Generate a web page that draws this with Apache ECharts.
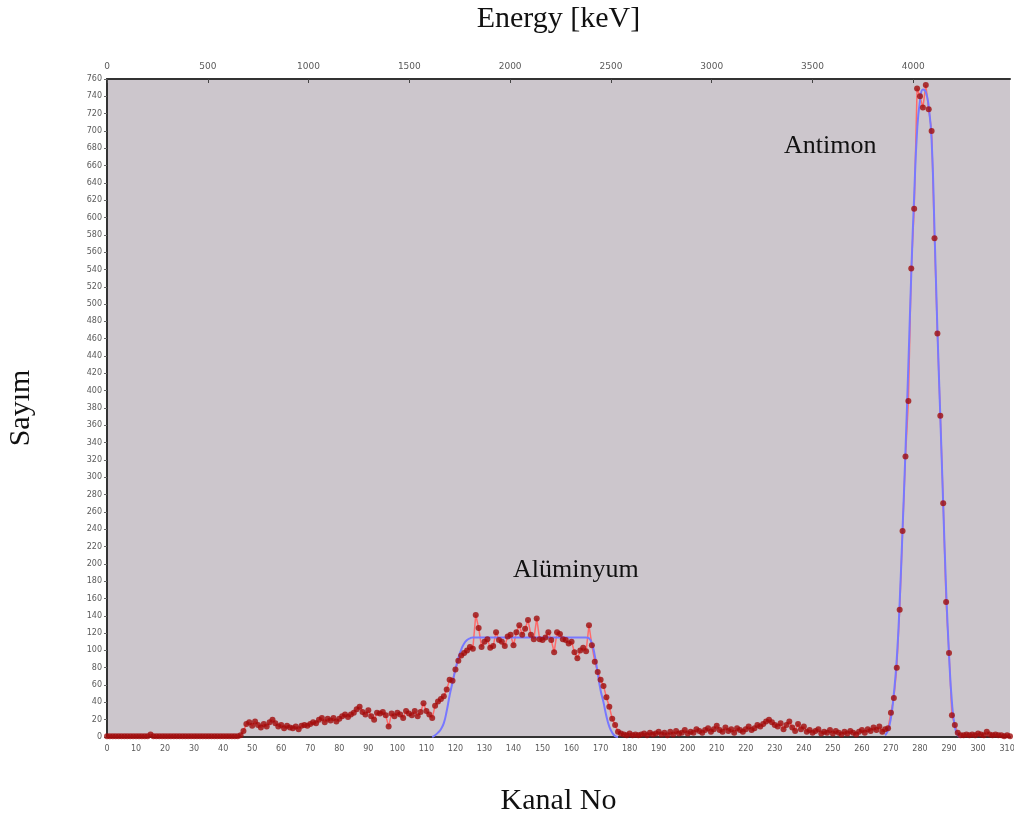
<!DOCTYPE html>
<html>
<head>
<meta charset="utf-8">
<title>Kanal No - Sayım</title>
<script src="https://cdn.jsdelivr.net/npm/echarts@6/dist/echarts.min.js"></script>
<style>
  html, body { margin: 0; padding: 0; background: #fff; }
  #chart { width: 1014px; height: 820px; }
</style>
</head>
<body>
<div id="chart"></div>
<script>
// measured counts, one value per channel (channel = index)
var counts = [
  1, 1, 1, 1, 1, 1, 1, 1, 1, 1, 1, 1, 1, 1, 1, 3, 1, 1, 1, 1,
  1, 1, 1, 1, 1, 1, 1, 1, 1, 1, 1, 1, 1, 1, 1, 1, 1, 1, 1, 1,
  1, 1, 1, 1, 1, 1, 2, 7, 15, 17, 13, 18, 14, 11, 15, 12, 17, 20, 16, 12,
  14, 10, 13, 11, 10, 12, 9, 13, 14, 13, 15, 17, 16, 20, 22, 17, 21, 19, 22, 18,
  21, 24, 26, 23, 26, 28, 32, 35, 29, 26, 31, 24, 20, 28, 27, 29, 25, 12, 27, 24,
  28, 26, 22, 30, 27, 25, 30, 24, 29, 39, 30, 26, 22, 36, 41, 44, 47, 55, 66, 65,
  78, 88, 94, 97, 100, 104, 102, 141, 126, 104, 110, 113, 103, 105, 121, 112, 110, 105, 116, 118,
  106, 121, 129, 118, 125, 135, 118, 113, 137, 113, 112, 115, 121, 112, 98, 121, 119, 113, 112, 108,
  110, 98, 91, 100, 103, 99, 129, 106, 87, 75, 66, 59, 46, 35, 21, 14, 6, 4, 3, 2,
  4, 2, 3, 2, 3, 4, 2, 5, 3, 4, 6, 3, 5, 2, 6, 3, 7, 4, 5, 8,
  4, 6, 5, 9, 7, 5, 8, 10, 6, 9, 13, 8, 6, 11, 7, 9, 5, 10, 8, 6,
  9, 12, 8, 10, 14, 12, 15, 18, 20, 17, 14, 12, 16, 9, 14, 18, 11, 7, 15, 9,
  12, 6, 8, 5, 7, 9, 4, 6, 5, 8, 4, 7, 5, 3, 6, 4, 7, 5, 3, 6,
  8, 5, 9, 7, 11, 8, 12, 6, 9, 10, 28, 45, 80, 147, 238, 324, 388, 541, 610, 749,
  740, 727, 753, 725, 700, 576, 466, 371, 270, 156, 97, 25, 14, 5, 2, 2, 3, 2, 3, 2,
  4, 3, 2, 6, 3, 2, 3, 2, 2, 1, 2, 1
];

// fitted curve for the aluminium plateau, starting at channel 112
var alFitStart = 112;
var alFit = [
  0, 2, 5, 9, 16, 30, 48, 63, 78, 91, 101, 108, 112, 114, 115, 115, 115, 115, 115, 115,
  115, 115, 115, 115, 115, 115, 115, 115, 115, 115, 115, 115, 115, 115, 115, 115, 115, 115, 115, 115,
  115, 115, 115, 115, 115, 115, 115, 115, 115, 115, 115, 115, 115, 115, 114, 108, 94, 74, 54, 40,
  24, 12, 5, 1, 0
];

// fitted curve for the antimony peak, starting at channel 268
var sbFitStart = 268;
var sbFit = [
  2, 8, 22, 50, 90, 155, 240, 330, 430, 535, 625, 700, 735, 748, 745, 728, 690, 585, 470, 370,
  268, 170, 95, 40, 12, 2, 0
];

var xTicks = { min: 0, max: 311, step: 10 };
var energyTicks = { min: 0, max: 4480, step: 500 };
var yTicks = { min: 0, max: 760, step: 20 };

function toPairs(arr, start) {
  return arr.map(function (v, i) { return [start + i, v]; });
}

var countPairs = toPairs(counts, 0);

var chart = echarts.init(document.getElementById("chart"));

var serif = "'Liberation Serif', 'DejaVu Serif', serif";
var tickFont = { fontSize: 8, color: "#5a5a5a", fontFamily: "'DejaVu Sans', sans-serif" };

chart.setOption({
  backgroundColor: "#ffffff",
  animation: false,
  grid: {
    left: 107,
    right: 4,
    top: 79,
    bottom: 83,
    outerBoundsMode: "none",
    containLabel: false,
    show: true,
    backgroundColor: "#ccc6cc",
    borderWidth: 0
  },
  xAxis: [
    {
      type: "value",
      position: "bottom",
      min: xTicks.min,
      max: xTicks.max,
      interval: xTicks.step,
      name: "Kanal No",
      nameLocation: "middle",
      nameGap: 49,
      nameTextStyle: { fontFamily: serif, fontSize: 30, color: "#111" },
      axisLine: { lineStyle: { color: "#333", width: 2 } },
      axisTick: { show: false },
      splitLine: { show: false },
      axisLabel: Object.assign({ margin: 8, showMaxLabel: false }, tickFont)
    },
    {
      type: "value",
      position: "top",
      min: energyTicks.min,
      max: energyTicks.max,
      interval: energyTicks.step,
      name: "Energy [keV]",
      nameLocation: "middle",
      nameGap: 45,
      nameTextStyle: { fontFamily: serif, fontSize: 30, color: "#111" },
      axisLine: { lineStyle: { color: "#333", width: 2 } },
      axisTick: { show: true, inside: true, length: 4, lineStyle: { color: "#444" } },
      splitLine: { show: false },
      axisLabel: Object.assign({
        margin: 8,
        showMaxLabel: false,
        formatter: function (v) { return String(v); }
      }, tickFont, { fontSize: 9 })
    }
  ],
  yAxis: {
    type: "value",
    min: yTicks.min,
    max: yTicks.max,
    interval: yTicks.step,
    name: "Sayım",
    nameLocation: "middle",
    nameGap: 71,
    nameTextStyle: { fontFamily: serif, fontSize: 30, color: "#111" },
    axisLine: { show: true, lineStyle: { color: "#333", width: 2 } },
    axisTick: { show: true, length: 3, lineStyle: { color: "#666" } },
    splitLine: { show: false },
    axisLabel: Object.assign({ margin: 5 }, tickFont)
  },
  graphic: [
    {
      type: "text",
      left: 513,
      top: 557,
      style: { text: "Alüminyum", font: "26px " + serif, fill: "#111" }
    },
    {
      type: "text",
      left: 784,
      top: 133,
      style: { text: "Antimon", font: "26px " + serif, fill: "#111" }
    }
  ],
  series: [
    {
      name: "Sayım line",
      type: "line",
      data: countPairs,
      showSymbol: false,
      lineStyle: { color: "#ff6a6a", width: 1.5 },
      z: 2
    },
    {
      name: "Al fit",
      type: "line",
      data: toPairs(alFit, alFitStart),
      smooth: true,
      showSymbol: false,
      lineStyle: { color: "#7878ff", width: 2 },
      z: 3
    },
    {
      name: "Sb fit",
      type: "line",
      data: toPairs(sbFit, sbFitStart),
      smooth: true,
      showSymbol: false,
      lineStyle: { color: "#7878ff", width: 2 },
      z: 3
    },
    {
      name: "Sayım",
      type: "scatter",
      data: countPairs,
      symbolSize: 6,
      itemStyle: { color: "#a00d0d" },
      z: 4
    }
  ]
});
</script>
</body>
</html>
